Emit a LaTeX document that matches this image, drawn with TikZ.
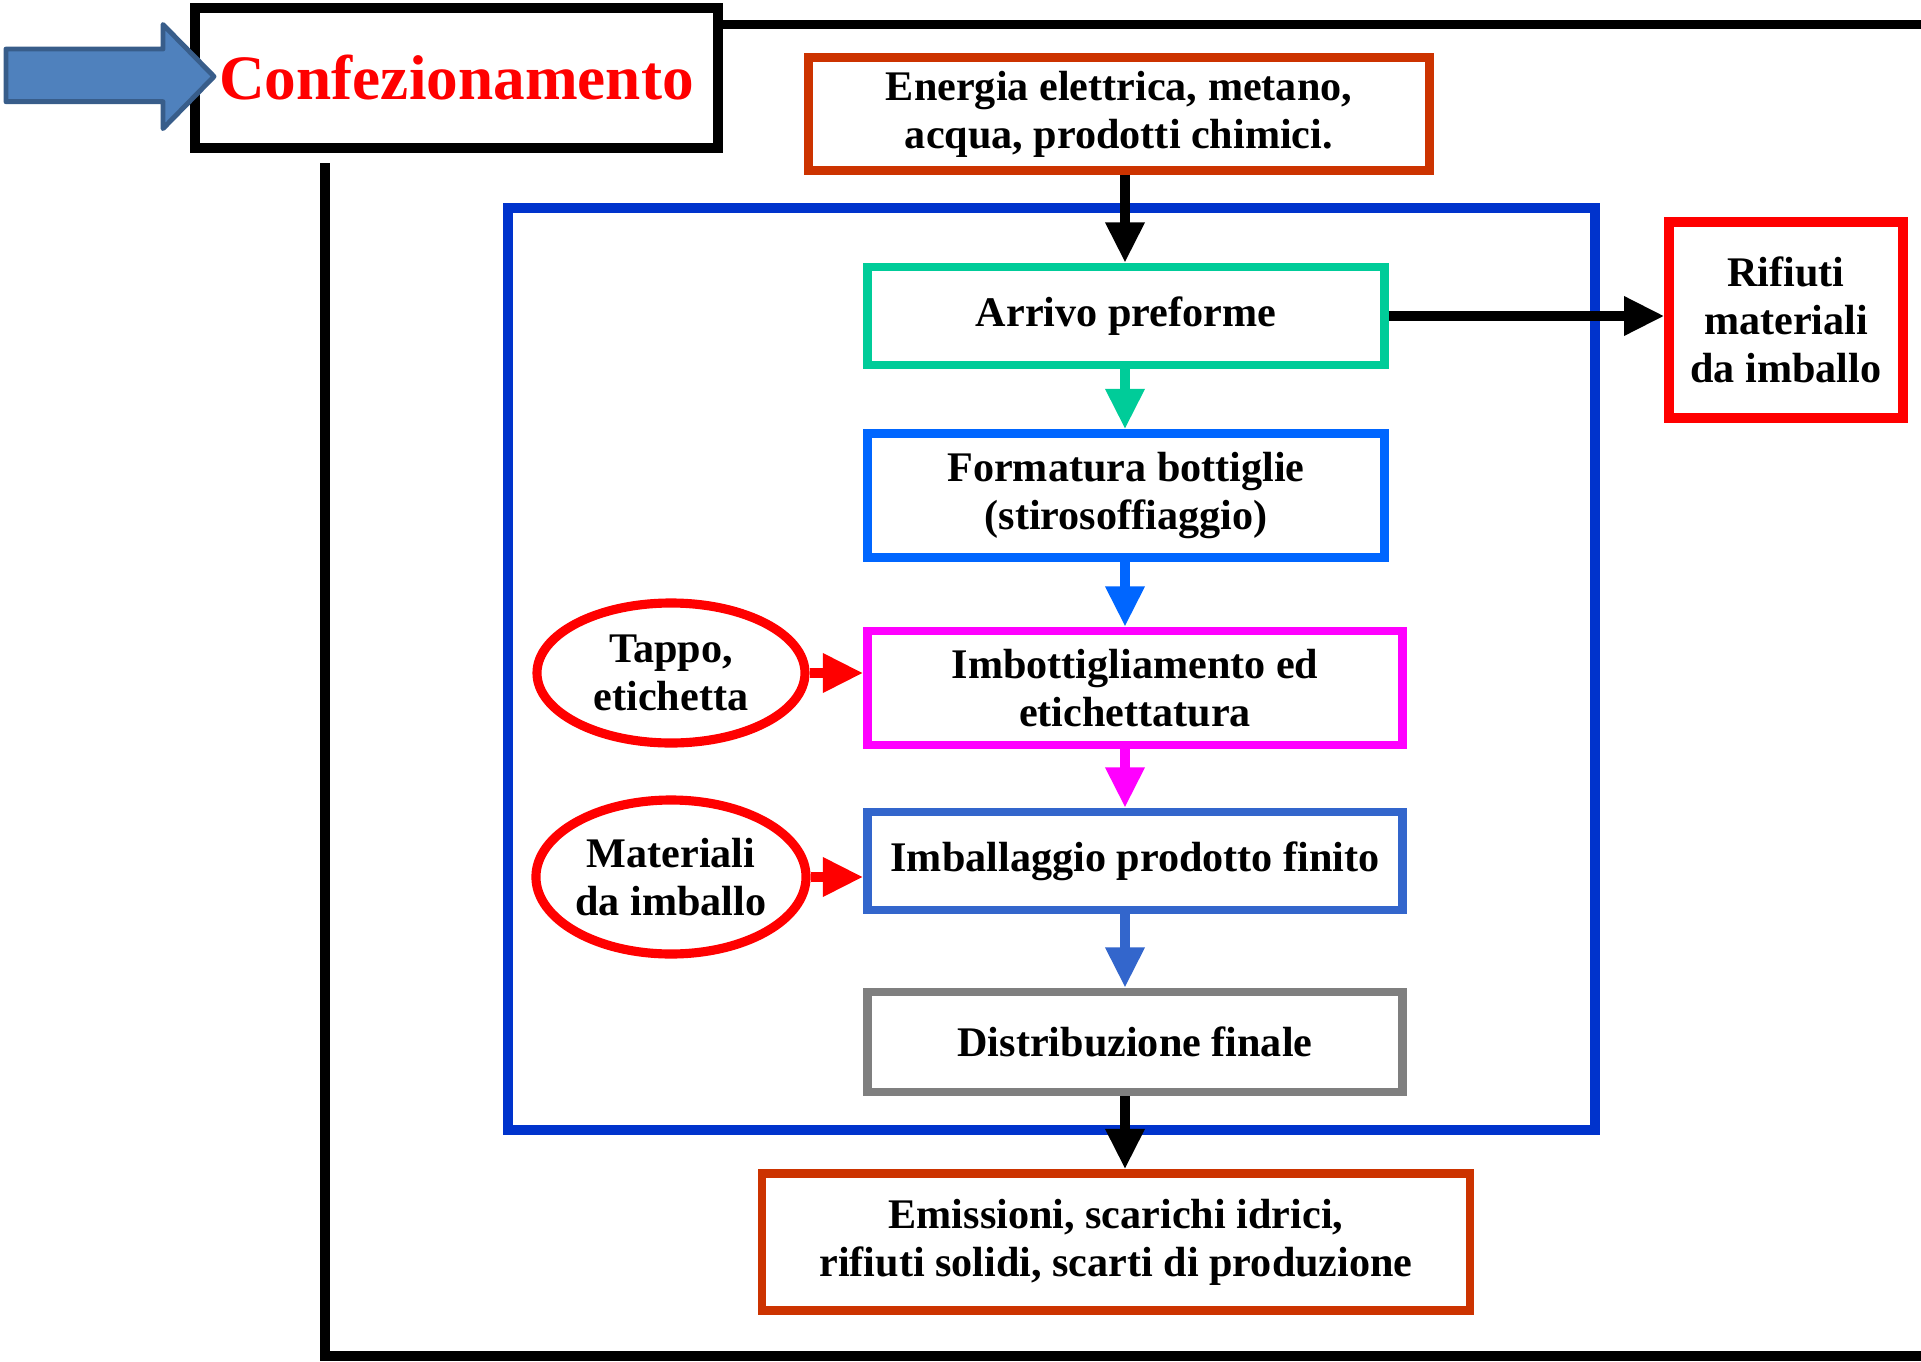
\documentclass[tikz,border=0pt]{standalone}
\usepackage{fontspec}
\setmainfont{Liberation Serif}
\usetikzlibrary{arrows.meta,shapes.geometric}

\definecolor{rustred}{HTML}{CC3300}
\definecolor{frameblue}{HTML}{0033CC}
\definecolor{seagreen}{HTML}{00CC99}
\definecolor{brightblue}{HTML}{0066FF}
\definecolor{pinkmag}{HTML}{FF00FF}
\definecolor{steelblue}{HTML}{3366CC}
\definecolor{midgray}{HTML}{7F7F7F}
\definecolor{arrowfill}{HTML}{4F81BD}
\definecolor{arrowedge}{HTML}{385D8A}

\begin{document}
\begin{tikzpicture}[block/.style={rectangle, draw, line width=2.4pt, align=center, inner sep=2pt, font=\bfseries\fontsize{12}{13.6}\selectfont},
    oval/.style={ellipse, draw=red, line width=2.6pt, align=center, inner sep=0pt, font=\bfseries\fontsize{12}{13.6}\selectfont},
    flow/.style={line width=2.8pt, -{Triangle[width=10.5pt,length=11.5pt]}}]
     \useasboundingbox (0,0) rectangle (19.21,-13.62);

     % outer frame of the phase
     \coordinate (topend) at (19.21,-0.245);
     \coordinate (lefttop) at (3.25,-1.63);
     \coordinate (corner) at (3.25,-13.56);
     \coordinate (botend) at (19.21,-13.56);
     \coordinate (spine) at (11.25,0);

     \node[draw=frameblue, line width=2.6pt, minimum width=10.87cm, minimum height=9.22cm] (stage) at (10.515,-6.69) {};

     \node[block, line width=2.9pt, minimum width=5.23cm, minimum height=1.40cm, text=red, font=\bfseries\fontsize{18}{20}\selectfont] (title) at (4.565,-0.78) {Confezionamento};
     \draw[line width=2.6pt] (title.east |- topend) -- (topend);
     \draw[line width=2.8pt] (lefttop) -- (corner) -- (botend);

     \node[block, draw=rustred, minimum width=6.21cm, minimum height=1.13cm] (energia) at (11.19,-1.14) {Energia elettrica, metano,\\acqua, prodotti chimici.};
     \node[block, draw=seagreen, minimum width=5.17cm, minimum height=0.98cm] (arrivo) at (11.26,-3.16) {Arrivo preforme};
     \node[block, draw=brightblue, minimum width=5.17cm, minimum height=1.24cm] (formatura) at (11.26,-4.955) {Formatura bottiglie\\(stirosoffiaggio)};
     \node[block, draw=pinkmag, minimum width=5.35cm, minimum height=1.14cm] (imbott) at (11.35,-6.88) {Imbottigliamento ed\\etichettatura};
     \node[block, draw=steelblue, minimum width=5.35cm, minimum height=0.98cm] (imball) at (11.35,-8.61) {Imballaggio prodotto finito};
     \node[block, draw=midgray, minimum width=5.35cm, minimum height=1.0cm] (distrib) at (11.35,-10.42) {Distribuzione finale};
     \node[block, draw=rustred, minimum width=7.08cm, minimum height=1.37cm] (emiss) at (11.16,-12.42) {Emissioni, scarichi idrici,\\rifiuti solidi, scarti di produzione};
     \node[block, draw=red, line width=2.6pt, minimum width=2.34cm, minimum height=1.96cm] (rifiuti) at (17.86,-3.20) {Rifiuti\\materiali\\da imballo};

     \node[oval, minimum width=2.68cm, minimum height=1.40cm] (tappo) at (6.71,-6.73) {Tappo,\\etichetta};
     \node[oval, minimum width=2.68cm, minimum height=1.54cm] (materiali) at (6.71,-8.77) {Materiali\\da imballo};

     \draw[flow] (energia.south -| spine) -- (arrivo.north -| spine);
     \draw[flow, seagreen] (arrivo.south -| spine) -- (formatura.north -| spine);
     \draw[flow, brightblue] (formatura.south -| spine) -- (imbott.north -| spine);
     \draw[flow, pinkmag] (imbott.south -| spine) -- (imball.north -| spine);
     \draw[flow, steelblue] (imball.south -| spine) -- (distrib.north -| spine);
     \draw[flow] (distrib.south -| spine) -- (emiss.north -| spine);
     \draw[flow] (arrivo.east) -- (arrivo.east -| rifiuti.west);
     \draw[flow, red] (tappo.east) -- (tappo.east -| imbott.west);
     \draw[flow, red] (materiali.east) -- (materiali.east -| imball.west);

     % block arrow into the title
     \draw[line width=1.4pt, draw=arrowedge, fill=arrowfill, line join=round] (0.06,-0.49) -- (1.63,-0.49) -- (1.63,-0.245) -- (2.14,-0.765) -- (1.63,-1.286) -- (1.63,-1.017) -- (0.06,-1.017) -- cycle;
\end{tikzpicture}
\end{document}
